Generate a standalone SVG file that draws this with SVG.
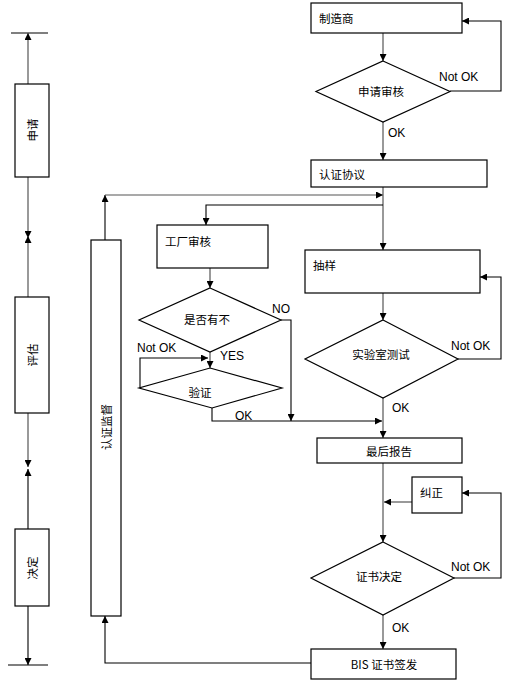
<svg xmlns="http://www.w3.org/2000/svg" width="518" height="686" viewBox="0 0 518 686">
<defs>
<marker id="ah" viewBox="0 0 8 8" refX="8" refY="4" markerWidth="7" markerHeight="7" markerUnits="userSpaceOnUse" orient="auto">
<path d="M0,0 L8,4 L0,8 Z" fill="#000"/>
</marker>
</defs>
<style>
.box{fill:#fff;stroke:#000;stroke-width:1.2}
.cn{font-family:"Noto Sans CJK SC","Liberation Sans",sans-serif;font-size:11.5px;fill:#000;dominant-baseline:central}
.lt{font-family:"Liberation Sans",sans-serif;font-size:12px;fill:#000;dominant-baseline:central}
.g{fill:none;stroke:#555;stroke-width:1.2}
.k{fill:none;stroke:#000;stroke-width:1.1}
.a{marker-end:url(#ah)}
</style>
<rect width="518" height="686" fill="#fff"/>

<g id="connectors">
<!-- left timeline -->
<line class="k" x1="11" y1="33" x2="48" y2="33"/>
<line class="g a" x1="28" y1="84" x2="28" y2="33"/>
<line class="g a" x1="28" y1="177" x2="28" y2="238"/>
<line class="g a" x1="28" y1="297" x2="28" y2="236"/>
<line class="g a" x1="28" y1="413" x2="28" y2="467"/>
<line class="k a" x1="28" y1="529" x2="28" y2="469"/>
<line class="k a" x1="28" y1="606" x2="28" y2="665"/>
<line class="k" x1="8" y1="665" x2="48" y2="665"/>
<!-- supervision loop -->
<polyline class="k a" points="317,663 105,663 105,616"/>
<line class="k a" x1="105" y1="240" x2="105" y2="195"/>
<polyline class="g a" points="105,195 383,195"/>
<!-- main column -->
<line class="g a" x1="383" y1="33" x2="383" y2="61"/>
<polyline class="k a" points="450,91 501,91 501,21 462,21"/>
<line class="g a" x1="383" y1="122" x2="383" y2="160"/>
<line class="g a" x1="383" y1="187" x2="383" y2="250"/>
<polyline class="k a" points="383,205 206,205 206,225"/>
<line class="g a" x1="383" y1="293" x2="383" y2="320"/>
<polyline class="k a" points="458,359 501,359 501,277 480,277"/>
<line class="g a" x1="383" y1="398" x2="383" y2="438"/>
<!-- factory audit branch -->
<line class="g a" x1="210" y1="268" x2="210" y2="288"/>
<polyline class="k a" points="281,320 291,320 291,421"/>
<line class="g a" x1="210" y1="352" x2="210" y2="368"/>
<polyline class="k a" points="140,388 140,358 208,358"/>
<polyline class="k a" points="212,408 212,421 382,421"/>
<!-- after final report -->
<line class="g a" x1="383" y1="463" x2="383" y2="542"/>
<line class="g a" x1="412" y1="502" x2="384" y2="502"/>
<polyline class="k a" points="454,578 501,578 501,493 462,493"/>
<line class="g a" x1="383" y1="615" x2="383" y2="649"/>
</g>

<g id="label-apply"><rect class="box" x="15" y="84" width="34" height="93"/><text class="cn" font-size="11" text-anchor="middle" transform="translate(32,130) rotate(-90)">申请</text></g>
<g id="label-evaluate"><rect class="box" x="15" y="297" width="34" height="116"/><text class="cn" font-size="11" text-anchor="middle" transform="translate(32,355) rotate(-90)">评估</text></g>
<g id="label-decide"><rect class="box" x="15" y="529" width="34" height="77"/><text class="cn" font-size="11" text-anchor="middle" transform="translate(32,568) rotate(-90)">决定</text></g>
<g id="supervision"><rect class="box" x="91" y="240" width="30" height="376"/><text class="cn" font-size="11" text-anchor="middle" transform="translate(106,427) rotate(-90)">认证监督</text></g>

<g id="manufacturer"><rect class="box" x="311" y="3" width="151" height="30"/><text class="cn" x="319" y="18">制造商</text></g>
<g id="application-review"><polygon class="box" points="383,61 450,91.5 383,122 316,91.5"/><text class="cn" x="381" y="91" text-anchor="middle">申请审核</text></g>
<text class="lt" x="439" y="77">Not OK</text>
<text class="lt" x="388" y="133">OK</text>
<g id="agreement"><rect class="box" x="311" y="160" width="176" height="27"/><text class="cn" x="319" y="174">认证协议</text></g>

<g id="factory-audit"><rect class="box" x="157" y="225" width="111" height="43"/><text class="cn" x="165" y="241">工厂审核</text></g>
<g id="nonconformity"><polygon class="box" points="210,288 281,320 210,352 139,320"/><text class="cn" x="207" y="319" text-anchor="middle">是否有不</text></g>
<text class="lt" x="272" y="309">NO</text>
<text class="lt" x="220" y="356">YES</text>
<text class="lt" x="137" y="348">Not OK</text>
<g id="verify"><polygon class="box" points="210,368 282,388 212,408 139,388"/><text class="cn" x="200" y="392" font-size="10" text-anchor="middle">验证</text></g>
<text class="lt" x="235" y="416">OK</text>

<g id="sampling"><rect class="box" x="305" y="250" width="175" height="43"/><text class="cn" x="313" y="265">抽样</text></g>
<g id="lab-test"><polygon class="box" points="383,320 458,359 383,398 305,359"/><text class="cn" x="381" y="354" text-anchor="middle">实验室测试</text></g>
<text class="lt" x="451" y="346">Not OK</text>
<text class="lt" x="392" y="408">OK</text>

<g id="final-report"><rect class="box" x="317" y="438" width="145" height="25"/><text class="cn" x="389" y="451" text-anchor="middle">最后报告</text></g>
<g id="correction"><rect class="box" x="412" y="477" width="50" height="36"/><text class="cn" x="420" y="492">纠正</text></g>
<g id="cert-decision"><polygon class="box" points="383,542 454,578 383,615 311,578"/><text class="cn" x="379" y="576" text-anchor="middle">证书决定</text></g>
<text class="lt" x="451" y="567">Not OK</text>
<text class="lt" x="392" y="628">OK</text>
<g id="bis-issue"><rect class="box" x="311" y="649" width="145" height="30"/><text class="cn" x="384" y="664" text-anchor="middle">BIS 证书签发</text></g>
</svg>
